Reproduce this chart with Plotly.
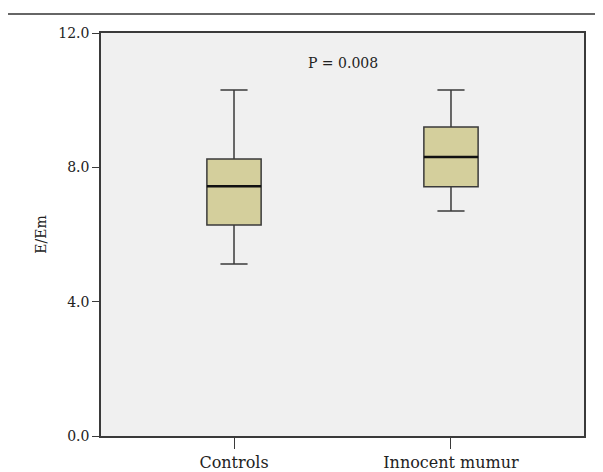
import plotly.graph_objects as go

categories = ["Controls", "Innocent mumur"]
lower_whisker = [5.12, 6.70]
q1_values = [6.28, 7.42]
median_values = [7.44, 8.31]
q3_values = [8.25, 9.20]
upper_whisker = [10.30, 10.30]
y_ticks = [0, 4, 8, 12]
p_label = "P = 0.008"

positions = list(range(len(categories)))
box_w = 0.25
font_family = "DejaVu Serif"
fill = "#d4cf9c"
edge = "#3a3a3a"

fig = go.Figure()
for i, cat in enumerate(categories):
    fig.add_trace(go.Box(
        x=[positions[i]], q1=[q1_values[i]], median=[median_values[i]], q3=[q3_values[i]],
        lowerfence=[lower_whisker[i]], upperfence=[upper_whisker[i]],
        name=cat, width=box_w, whiskerwidth=0.5,
        fillcolor=fill, line=dict(color=edge, width=1.5),
        boxpoints=False, showlegend=False, hoverinfo="skip",
    ))
    fig.add_shape(type="line", xref="x", yref="y",
                  x0=positions[i] - box_w / 2, x1=positions[i] + box_w / 2,
                  y0=median_values[i], y1=median_values[i],
                  line=dict(color="#111111", width=2.5))

fig.add_shape(type="line", xref="paper", yref="paper",
              x0=-0.1925, x1=1.1, y0=1.047, y1=1.047,
              line=dict(color="#333333", width=1.5))

fig.add_annotation(x=0.5, y=11.1, xref="x", yref="y", text=p_label, showarrow=False,
                   font=dict(family=font_family, size=14, color="#222222"))

fig.update_layout(
    width=603, height=472,
    margin=dict(l=93, r=27, t=25, b=44, autoexpand=False),
    paper_bgcolor="white", plot_bgcolor="#f0f0f0",
    font=dict(family=font_family, size=14, color="#222222"),
    xaxis=dict(range=[-0.613, 1.613], tickvals=positions, ticktext=categories,
               showgrid=False, zeroline=False, showline=True, linecolor=edge, linewidth=1.5,
               mirror=True, ticks="outside", ticklen=11, tickcolor=edge, tickwidth=1.2,
               tickfont=dict(size=16), ticklabelstandoff=0, automargin=False),
    yaxis=dict(range=[0, 12], tickvals=y_ticks, tickformat=".1f",
               showgrid=False, zeroline=False, showline=True, linecolor=edge, linewidth=1.5,
               mirror=True, ticks="outside", ticklen=7, tickcolor=edge, tickwidth=1.2,
               automargin=False,
               title=dict(text="E/Em", font=dict(size=14), standoff=8)),
)

fig.write_html("out.html")
